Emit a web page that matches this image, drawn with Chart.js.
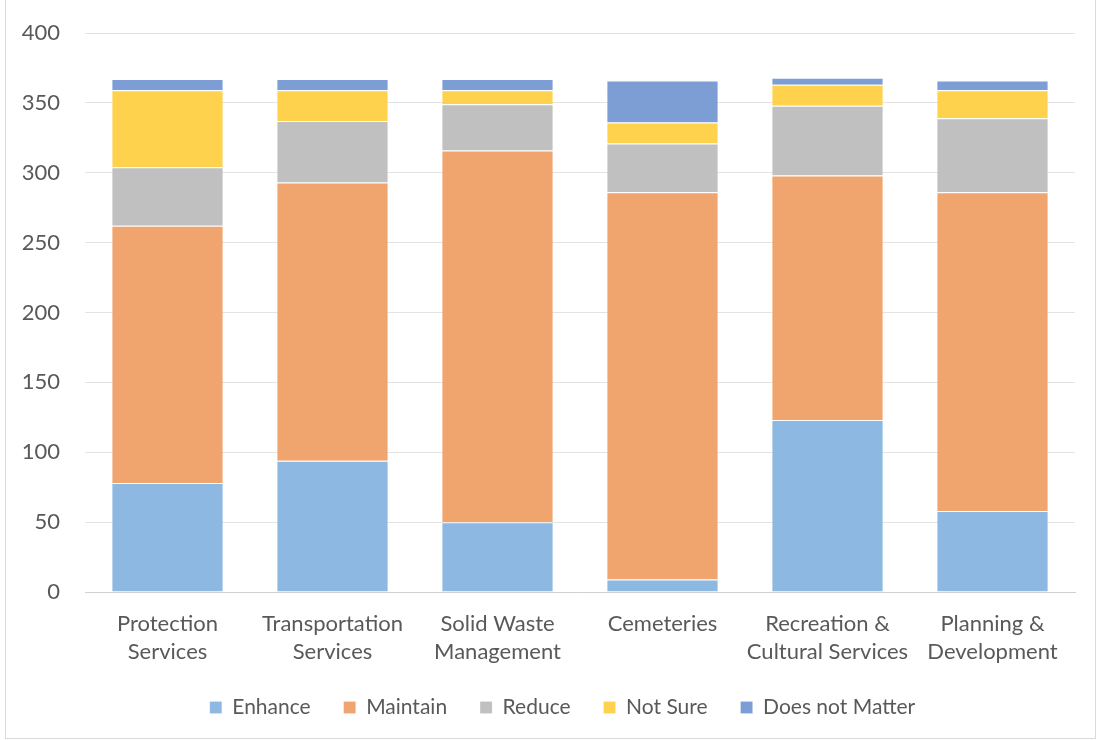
<!DOCTYPE html>
<html>
<head>
<meta charset="utf-8">
<script src="https://cdn.jsdelivr.net/npm/chart.js@4"></script>
<style>
  html, body { margin: 0; padding: 0; background: #fff; }
  #frame {
    position: absolute;
    left: 5px; top: -2px;
    width: 1089px; height: 739px;
    border: 1px solid #d9d9d9;
  }
  #frame canvas { display: block; }
</style>
</head>
<body>
<div id="frame"><canvas id="chart" width="1089" height="739"></canvas></div>
<script>
// categories (two-line labels as drawn under the bars)
const categories = [
  ['Protection', 'Services'],
  ['Transportation', 'Services'],
  ['Solid Waste', 'Management'],
  ['Cemeteries'],
  ['Recreation &', 'Cultural Services'],
  ['Planning &', 'Development']
]

// series values
const enhance = [78, 94, 50, 9, 123, 58]
const maintain = [184, 199, 266, 277, 175, 228]
const reduce = [42, 44, 33, 35, 50, 53]
const notSure = [55, 22, 10, 15, 15, 20]
const doesNotMatter = [8, 8, 8, 30, 5, 7]

const seriesNames = ['Enhance', 'Maintain', 'Reduce', 'Not Sure', 'Does not Matter']
const seriesColors = ['#8cb8e1', '#f0a46e', '#c0c0c0', '#ffd24d', '#7c9ed5']

// y axis
const yMin = 0
const yMax = 400
const yStep = 50

const FONT = 'Lato, "Liberation Sans", sans-serif'
const TEXT = '#595959'

const makeSet = (i, data) => ({
  label: seriesNames[i],
  data,
  backgroundColor: seriesColors[i],
  borderColor: 'rgba(255,255,255,0.6)',
  borderWidth: { top: 1, bottom: 0, left: 0, right: 0 },
  borderSkipped: false,
  barPercentage: 0.67,
  categoryPercentage: 1
})

// the legend sits a little right of centre and a little higher in the original
const legendShift = {
  id: 'legendShift',
  afterLayout(chart) {
    const lg = chart.legend
    lg.left += 22
    lg.right += 22
    lg.top -= 10
    lg.bottom -= 10
  }
}

new Chart(document.getElementById('chart').getContext('2d'), {
  type: 'bar',
  data: {
    labels: categories,
    datasets: [
      makeSet(0, enhance),
      makeSet(1, maintain),
      makeSet(2, reduce),
      makeSet(3, notSure),
      makeSet(4, doesNotMatter)
    ]
  },
  plugins: [legendShift],
  options: {
    responsive: false,
    animation: false,
    layout: { padding: { left: 0, right: 20, top: 34, bottom: 0 } },
    plugins: {
      tooltip: { enabled: false },
      legend: {
        position: 'bottom',
        labels: {
          boxWidth: 12,
          boxHeight: 12,
          padding: 33,
          color: TEXT,
          font: { family: FONT, size: 21 }
        }
      }
    },
    scales: {
      x: {
        stacked: true,
        grid: { display: false },
        border: { display: true, color: '#d0d0d0' },
        ticks: {
          color: TEXT,
          padding: 10,
          maxRotation: 0,
          font: { family: FONT, size: 22, lineHeight: 1.27 }
        },
        afterFit: (scale) => { scale.height = 82 }
      },
      y: {
        stacked: true,
        min: yMin,
        max: yMax,
        grid: { color: '#e3e3e3', drawTicks: false },
        border: { display: false },
        ticks: {
          stepSize: yStep,
          color: TEXT,
          padding: 25,
          font: { family: FONT, size: 22 }
        },
        afterFit: (scale) => {
          scale.width = 79
          scale.paddingTop = 0
          scale.paddingBottom = 0
        }
      }
    }
  }
})
</script>
</body>
</html>
